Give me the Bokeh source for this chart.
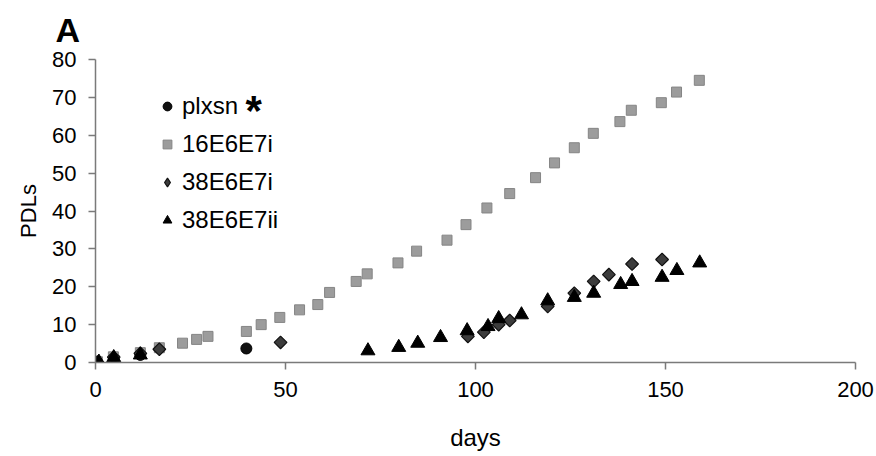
from bokeh.plotting import figure
from bokeh.models import Range1d, FixedTicker, Legend, LegendItem, Label, Title
from bokeh.embed import file_html
from bokeh.resources import INLINE
import math

# ---- data ----
x_ticks = [0, 50, 100, 150, 200]
y_ticks = [0, 10, 20, 30, 40, 50, 60, 70, 80]

plxsn_days = [0.5, 4.8, 11.8, 39.7]
plxsn_pdl = [0.1, 1.3, 2.0, 3.7]

e16_days = [0.5, 4.7, 11.8, 16.8, 22.9, 26.6, 29.6, 39.7, 43.6, 48.5, 53.7, 58.5,
            61.6, 68.6, 71.5, 79.6, 84.5, 92.5, 97.5, 103.0, 109.0, 115.8, 120.8,
            126.0, 131.0, 138.0, 141.0, 148.9, 152.9, 158.9]
e16_pdl = [0.2, 1.5, 2.6, 3.9, 5.1, 6.1, 6.9, 8.2, 10.0, 11.9, 13.9, 15.3,
           18.5, 21.4, 23.4, 26.3, 29.4, 32.3, 36.4, 40.8, 44.6, 48.8, 52.7,
           56.7, 60.5, 63.6, 66.6, 68.6, 71.4, 74.5]

e38i_days = [0.5, 4.8, 11.8, 16.8, 48.7, 98.0, 102.2, 106.1, 109.0, 119.0, 126.0,
             131.1, 135.1, 141.2, 149.1]
e38i_pdl = [0.1, 1.4, 2.4, 3.5, 5.3, 6.9, 8.0, 10.0, 11.1, 14.8, 18.3,
            21.4, 23.2, 26.0, 27.2]

e38ii_days = [0.9, 4.8, 11.8, 71.7, 79.8, 84.8, 90.8, 97.8, 103.3, 106.1, 112.1,
              119.0, 126.0, 131.1, 138.2, 141.2, 149.1, 153.0, 159.0]
e38ii_pdl = [0.1, 1.3, 2.0, 3.1, 4.0, 5.1, 6.6, 8.4, 9.5, 11.6, 12.6,
             16.3, 17.2, 18.3, 20.6, 21.4, 22.5, 24.3, 26.3]

labels = ["plxsn", "16E6E7i", "38E6E7i", "38E6E7ii"]

FONT = "Liberation Sans, Arial, sans-serif"
AXIS_COLOR = "#7a7a7a"

p = figure(width=876, height=456, output_backend="svg", toolbar_location=None,
           x_range=Range1d(0, 200), y_range=Range1d(0, 80),
           min_border_left=95, min_border_right=21, min_border_top=59,
           min_border_bottom=94, background_fill_color="white",
           border_fill_color="white")
p.outline_line_color = None
p.grid.visible = False

p.title = Title(text="A", align="left", offset=-40, standoff=18,
                vertical_align="top",
                text_font=FONT, text_font_size="34px", text_font_style="bold",
                text_color="black")

r_plx = p.scatter(plxsn_days, plxsn_pdl, marker="circle", size=11,
                  fill_color="#111111", line_color="#000000")
r_16 = p.scatter(e16_days, e16_pdl, marker="square", size=10,
                 fill_color="#9c9c9c", line_color="#858585", line_width=1)
r_38i = p.scatter(e38i_days, e38i_pdl, marker="square", size=9, angle=math.pi / 4,
                  fill_color="#3c3c3c", line_color="#111111", line_width=1.2)
r_38ii = p.scatter(e38ii_days, e38ii_pdl, marker="triangle", size=14,
                   fill_color="#000000", line_color="#000000")

# legend-only glyph (diamond shape, since the legend ignores the marker angle)
r_38i_leg = p.scatter(e38i_days, e38i_pdl, marker="diamond", size=16,
                      fill_color="#3c3c3c", line_color="#111111", line_width=1.2,
                      visible=False)

for ax in (p.xaxis[0], p.yaxis[0]):
    ax.axis_line_color = AXIS_COLOR
    ax.axis_line_width = 1.5
    ax.major_tick_line_color = AXIS_COLOR
    ax.major_tick_line_width = 1.5
    ax.major_tick_out = 7
    ax.major_tick_in = 0
    ax.minor_tick_line_color = None
    ax.major_label_text_font = FONT
    ax.major_label_text_font_size = "22px"
    ax.major_label_text_color = "black"
    ax.major_label_standoff = 12
    ax.axis_label_text_font = FONT
    ax.axis_label_text_font_style = "normal"
    ax.axis_label_text_color = "black"

p.xaxis.ticker = FixedTicker(ticks=x_ticks)
p.yaxis.ticker = FixedTicker(ticks=y_ticks)
p.xaxis.axis_label = "days"
p.xaxis.axis_label_text_font_size = "24px"
p.xaxis.axis_label_standoff = 24
p.yaxis.axis_label = "PDLs"
p.yaxis.axis_label_text_font_size = "22px"
p.yaxis.axis_label_standoff = 8

legend = Legend(items=[LegendItem(label=labels[0], renderers=[r_plx]),
                       LegendItem(label=labels[1], renderers=[r_16]),
                       LegendItem(label=labels[2], renderers=[r_38i_leg]),
                       LegendItem(label=labels[3], renderers=[r_38ii])],
                location=(61, 128), glyph_width=22, glyph_height=22,
                label_height=22, label_standoff=4, spacing=10, padding=0,
                margin=0, border_line_color=None, background_fill_alpha=0,
                inactive_fill_alpha=0,
                label_text_font=FONT, label_text_font_size="24px",
                label_text_color="black")
p.add_layout(legend)

p.add_layout(Label(x=39.5, y=60.4, text="*", text_font=FONT,
                   text_font_size="42px", text_font_style="bold",
                   text_color="black"))

open("out.html", "w").write(file_html(p, INLINE))
